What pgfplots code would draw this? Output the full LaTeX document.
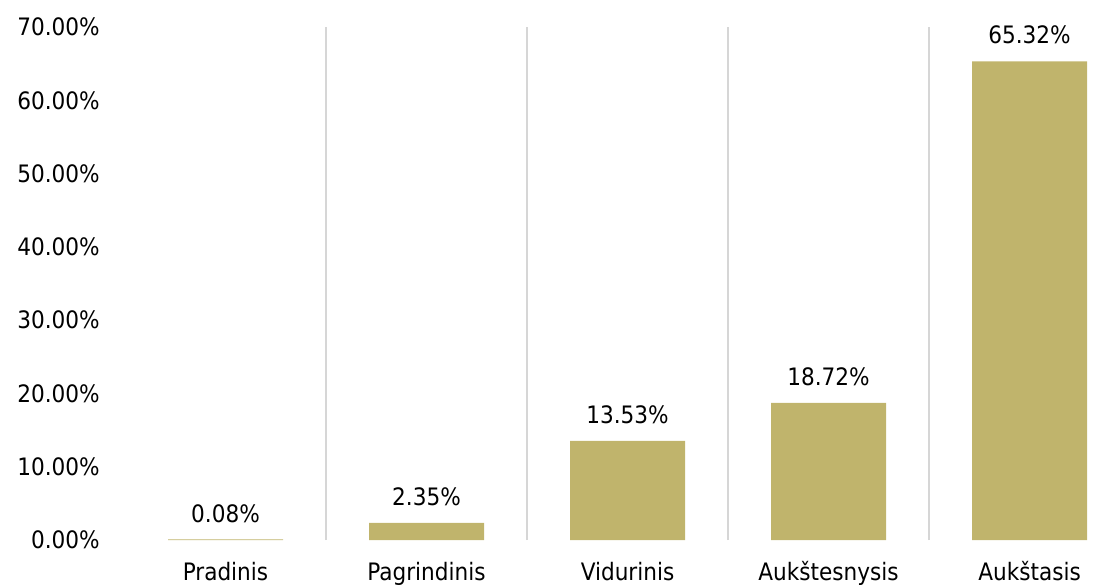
\documentclass[border=0pt]{standalone}
\usepackage{pgfplots}
\pgfplotsset{compat=1.18}
\usepackage{fontspec}
\setmainfont{DejaVu Sans Condensed}
\definecolor{barcol}{RGB}{192,180,108}
\definecolor{gridcol}{RGB}{214,214,214}
\begin{document}
\begin{tikzpicture}[x=1pt,y=1pt,font=\fontsize{18}{21}\selectfont]
\useasboundingbox (-93.75,-34.5) rectangle (744,405);
\begin{axis}[
  at={(0,0)}, anchor=south west,
  scale only axis, width=744pt, height=384.75pt,
  xmin=-0.5, xmax=4.435, ymin=0, ymax=70,
  enlargelimits=false, clip=false,
  axis line style={draw=none},
  major tick length=0, minor tick length=0,
  xtick={0,1,2,3,4},
  xticklabels={Pradinis,Pagrindinis,Vidurinis,Aukštesnysis,Aukštasis},
  minor xtick={0.5,1.5,2.5,3.5},
  xminorgrids=true,
  minor grid style={draw=gridcol, line width=1.5pt},
  ytick={0,10,20,30,40,50,60,70},
  /pgf/number format/assume math mode=true,
  yticklabel={\pgfmathprintnumber[fixed,fixed zerofill,precision=2]{\tick}\%},
  xticklabel style={anchor=base, yshift=-30pt, inner sep=0pt},
  yticklabel style={anchor=east, xshift=-18.75pt, inner sep=0pt},
  ybar, bar width=86.25pt,
  nodes near coords={\pgfmathprintnumber[fixed,fixed zerofill,precision=2]{\pgfplotspointmeta}\%},
  nodes near coords style={anchor=base, yshift=13pt, inner sep=0pt, text=black},
]
\addplot[fill=barcol, draw=none] coordinates {(0,0.08) (1,2.35) (2,13.53) (3,18.72) (4,65.32)};
\end{axis}
\end{tikzpicture}
\end{document}
